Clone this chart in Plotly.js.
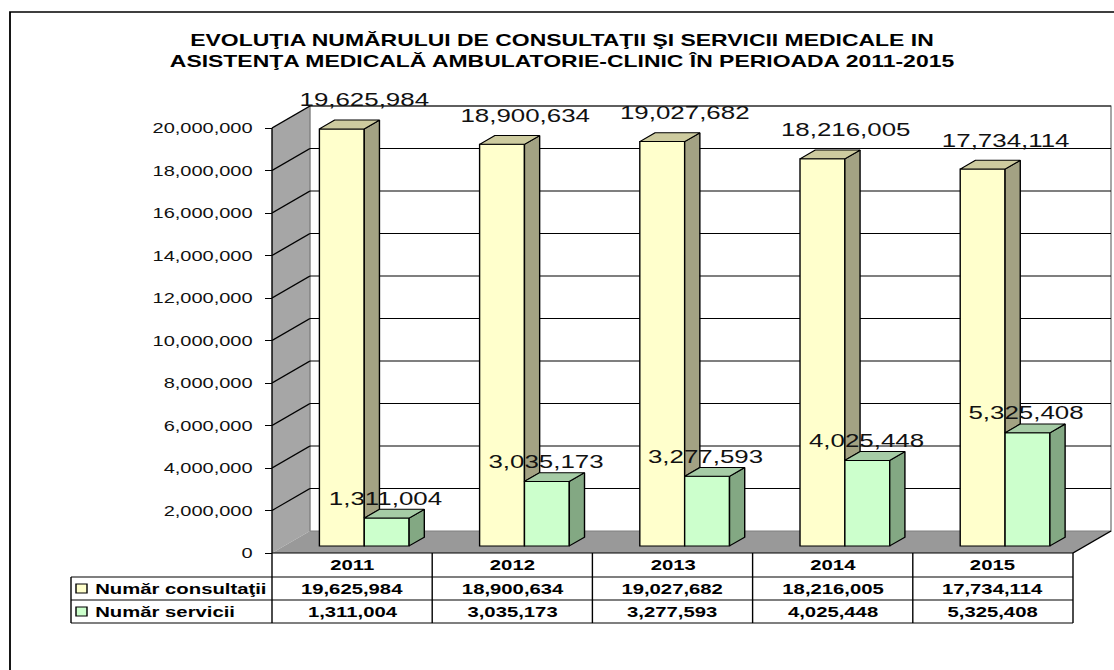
<!DOCTYPE html>
<html>
<head>
<meta charset="utf-8">
<script src="https://cdn.plot.ly/plotly-3.0.1.min.js"></script>
<style>
html,body{margin:0;padding:0;overflow:hidden;background:#fff;}
#chart{width:796px;height:670px;transform-origin:0 0;}
</style>
</head>
<body>
<div id="chart"></div>
<script>
// ---------------- data ----------------
const years = ['2011', '2012', '2013', '2014', '2015'];
const consultatii = [19625984, 18900634, 19027682, 18216005, 17734114];
const servicii = [1311004, 3035173, 3277593, 4025448, 5325408];
const seriesNames = ['Număr consultaţii', 'Număr servicii'];
const yTicks = [0, 2000000, 4000000, 6000000, 8000000, 10000000, 12000000, 14000000, 16000000, 18000000, 20000000];
const titleLines = ['EVOLUŢIA NUMĂRULUI DE CONSULTAŢII ŞI SERVICII MEDICALE IN',
                    'ASISTENŢA MEDICALĂ AMBULATORIE-CLINIC ÎN PERIOADA 2011-2015'];

// ---------------- geometry / style ----------------
const FONT = 'Liberation Sans, Arial, sans-serif';
const FINAL_W = 1114, H = 670, W = 796, S = FINAL_W / W;
const fx = px => px / S;                 // final (stretched) px -> svg units
const ML = 192, MR = 1, MT = 104, MB = 115;
const PW = W - ML - MR, PH = H - MT - MB;
const CAT = fx(160.2);                   // svg units per category
const X_FRONT_LEFT = fx(272);
const XMIN = -0.5 - (X_FRONT_LEFT - ML) / CAT;
const XMAX = XMIN + PW / CAT;
const PXM = 21.25 / 1e6;                 // px per value
const Y0PX = 553;
const YMIN = -(H - MB - Y0PX) / PXM;
const YMAX = YMIN + PH / PXM;
const DXF = fx(38) / CAT;                // full depth, x units
const DYF = 22 / PXM;                    // full depth, y units
const D0 = 0.32, DL = 0.4, BW = 0.28;
const ddx = DL * DXF, ddy = DL * DYF;

const pX = u => (u - ML) / PW;
const pXf = px => pX(fx(px));
const pY = py => (H - MB - py) / PH;
const fmt = v => v.toLocaleString('en-US');

const C = {
  yFront: '#FFFFCC', ySide: '#A3A283', yTop: '#CDCB9F',
  gFront: '#CCFFCC', gSide: '#83A883', gTop: '#A6CCA6',
  wall: '#A6A6A6', floor: '#999999'
};

// ---------------- derived positions ----------------
const idx = years.map((_, i) => i);
const xc = idx.map(i => i + D0 * DXF);
const base = D0 * DYF;
const yTopV = consultatii.map(v => base + v);
const gTopV = servicii.map(v => base + v);

function polys(list) {
  const xs = [], ys = [];
  list.forEach(p => { p.forEach(q => { xs.push(q[0]); ys.push(q[1]); }); xs.push(p[0][0]); ys.push(p[0][1]); xs.push(null); ys.push(null); });
  return {x: xs, y: ys};
}
const ySide = polys(idx.map(i => {
  const xr = xc[i], lo = Math.min(gTopV[i], yTopV[i]);
  return [[xr, lo], [xr + ddx, lo + ddy], [xr + ddx, yTopV[i] + ddy], [xr, yTopV[i]]];
}));
const yTopF = polys(idx.map(i => {
  const xr = xc[i], xl = xr - BW, t = yTopV[i];
  return [[xl, t], [xr, t], [xr + ddx, t + ddy], [xl + ddx, t + ddy]];
}));
const gSide = polys(idx.map(i => {
  const gr = xc[i] + BW;
  return [[gr, base], [gr + ddx, base + ddy], [gr + ddx, gTopV[i] + ddy], [gr, gTopV[i]]];
}));
const gTopF = polys(idx.map(i => {
  const xl = xc[i], gr = xc[i] + BW, t = gTopV[i];
  return [[xl, t], [gr, t], [gr + ddx, t + ddy], [xl + ddx, t + ddy]];
}));

const face = (d, col) => ({type: 'scatter', mode: 'lines', x: d.x, y: d.y, fill: 'toself',
  fillcolor: col, line: {color: '#000', width: 1}, hoverinfo: 'skip', showlegend: false});

const traces = [
  {type: 'bar', name: seriesNames[0], x: xc, y: consultatii, base: idx.map(() => base),
   width: BW, offset: -BW, marker: {color: C.yFront, line: {color: '#000', width: 1}},
   hoverinfo: 'skip', showlegend: false},
  {type: 'bar', name: seriesNames[1], x: xc, y: servicii, base: idx.map(() => base),
   width: BW, offset: 0, marker: {color: C.gFront, line: {color: '#000', width: 1}},
   hoverinfo: 'skip', showlegend: false},
  face(ySide, C.ySide), face(yTopF, C.yTop), face(gSide, C.gSide), face(gTopF, C.gTop)
];

// ---------------- shapes ----------------
const L = '#000';
const shapes = [];
const xl0 = -0.5, xr0 = -0.5 + years.length;
shapes.push({type: 'path', layer: 'below', xref: 'x', yref: 'y',
  path: `M ${xl0} 0 L ${xl0} ${yTicks[yTicks.length-1]} L ${xl0 + DXF} ${yTicks[yTicks.length-1] + DYF} L ${xl0 + DXF} ${DYF} Z`,
  fillcolor: C.wall, line: {width: 0}});
shapes.push({type: 'path', layer: 'below', xref: 'x', yref: 'y',
  path: `M ${xl0} 0 L ${xr0} 0 L ${xr0 + DXF} ${DYF} L ${xl0 + DXF} ${DYF} Z`,
  fillcolor: C.floor, line: {width: 0}});
shapes.push({type: 'rect', layer: 'below', xref: 'x', yref: 'y',
  x0: xl0 + DXF, x1: xr0 + DXF, y0: DYF, y1: yTicks[yTicks.length-1] + DYF,
  fillcolor: '#fff', line: {color: '#808080', width: 1}});
yTicks.filter(v => v > 0).forEach(v => {
  shapes.push({type: 'line', layer: 'below', xref: 'x', yref: 'y', x0: xl0 + DXF, x1: xr0 + DXF,
    y0: v + DYF, y1: v + DYF, line: {color: L, width: 1}});
  shapes.push({type: 'line', layer: 'below', xref: 'x', yref: 'y', x0: xl0, x1: xl0 + DXF,
    y0: v, y1: v + DYF, line: {color: L, width: 1}});
});
shapes.push({type: 'line', layer: 'below', xref: 'x', yref: 'y', x0: xl0, x1: xl0, y0: 0,
  y1: yTicks[yTicks.length-1], line: {color: L, width: 1}});
shapes.push({type: 'line', layer: 'below', xref: 'x', yref: 'y', x0: xr0, x1: xr0 + DXF, y0: 0,
  y1: DYF, line: {color: L, width: 1}});

// table (paper coords)
const uX = x => ML + (x - XMIN) * CAT;
const colX = idx.concat([years.length]).map(i => pX(uX(i - 0.5)));
const legL = pXf(71);
const rowY = [553, 577, 600, 623].map(pY);
const pline = (x0, y0, x1, y1, w) => ({type: 'line', xref: 'paper', yref: 'paper', x0, y0, x1, y1,
  line: {color: L, width: w || 1}});
shapes.push(pline(colX[0], rowY[0], colX[colX.length-1], rowY[0]));
[1, 2, 3].forEach(r => shapes.push(pline(legL, rowY[r], colX[colX.length-1], rowY[r])));
shapes.push(pline(legL, rowY[1], legL, rowY[3]));
colX.forEach(x => shapes.push(pline(x, rowY[0], x, rowY[3])));
// legend keys
[[584, C.yFront], [607, C.gFront]].forEach(([py, col]) => {
  shapes.push({type: 'rect', xref: 'paper', yref: 'paper', x0: pXf(76), x1: pXf(87),
    y0: pY(py), y1: pY(py + 9), fillcolor: col, line: {color: L, width: 1}});
});
// outer frame
shapes.push({type: 'rect', xref: 'paper', yref: 'paper', x0: pXf(10), x1: pXf(1130),
  y0: pY(12), y1: pY(690), fillcolor: 'rgba(0,0,0,0)', line: {color: L, width: 1.3}});

// ---------------- annotations ----------------
const ann = [];
idx.forEach(i => {
  ann.push({xref: 'x', yref: 'y', x: xc[i] - BW / 2, y: yTopV[i], text: fmt(consultatii[i]),
    showarrow: false, xanchor: 'center', yanchor: 'middle', xshift: fx(23), yshift: 29,
    font: {family: FONT, size: 18.5, color: '#111'}});
  ann.push({xref: 'x', yref: 'y', x: xc[i] + BW / 2, y: gTopV[i], text: fmt(servicii[i]),
    showarrow: false, xanchor: 'center', yanchor: 'middle', xshift: fx(-1.5), yshift: 20,
    font: {family: FONT, size: 18.5, color: '#111'}});
});
const tFont = {family: FONT, size: 14.5, color: '#000', weight: 700};
idx.forEach(i => {
  ann.push({xref: 'x', yref: 'paper', x: i, y: pY(565), text: years[i], showarrow: false,
    xanchor: 'center', yanchor: 'middle', font: tFont});
  ann.push({xref: 'x', yref: 'paper', x: i, y: pY(588.5), text: fmt(consultatii[i]), showarrow: false,
    xanchor: 'center', yanchor: 'middle', font: tFont});
  ann.push({xref: 'x', yref: 'paper', x: i, y: pY(611.5), text: fmt(servicii[i]), showarrow: false,
    xanchor: 'center', yanchor: 'middle', font: tFont});
});
seriesNames.forEach((nm, r) => {
  ann.push({xref: 'paper', yref: 'paper', x: pXf(92), y: pY(r === 0 ? 588.5 : 611.5), text: nm,
    showarrow: false, xanchor: 'left', yanchor: 'middle', font: tFont});
});

const layout = {
  width: W, height: H,
  margin: {l: ML, r: MR, t: MT, b: MB, pad: 0},
  paper_bgcolor: '#fff', plot_bgcolor: 'rgba(0,0,0,0)',
  barmode: 'overlay',
  showlegend: false,
  title: {text: titleLines.join('<br>'), font: {family: FONT, size: 16.4, color: '#000', weight: 700},
    xref: 'container', x: fx(562) / W, xanchor: 'center',
    yref: 'container', y: 1 - 46 / H, yanchor: 'middle'},
  xaxis: {range: [XMIN, XMAX], autorange: false, showticklabels: false, ticks: '',
    showgrid: false, zeroline: false, showline: false, fixedrange: true},
  yaxis: {range: [YMIN, YMAX], autorange: false, tickmode: 'array', tickvals: yTicks,
    ticktext: yTicks.map(fmt), ticks: 'outside', ticklen: 5, tickwidth: 1, tickcolor: '#000',
    showgrid: false, zeroline: false, showline: false, anchor: 'free', position: pX(X_FRONT_LEFT),
    tickfont: {family: FONT, size: 14.3, color: '#111'}, ticklabelstandoff: 6, fixedrange: true},
  shapes: shapes,
  annotations: ann
};

const div = document.getElementById('chart');
Plotly.newPlot(div, traces, layout, {staticPlot: true, displayModeBar: false}).then(() => {
  div.style.transform = 'scaleX(' + S + ')';
});
</script>
</body>
</html>
